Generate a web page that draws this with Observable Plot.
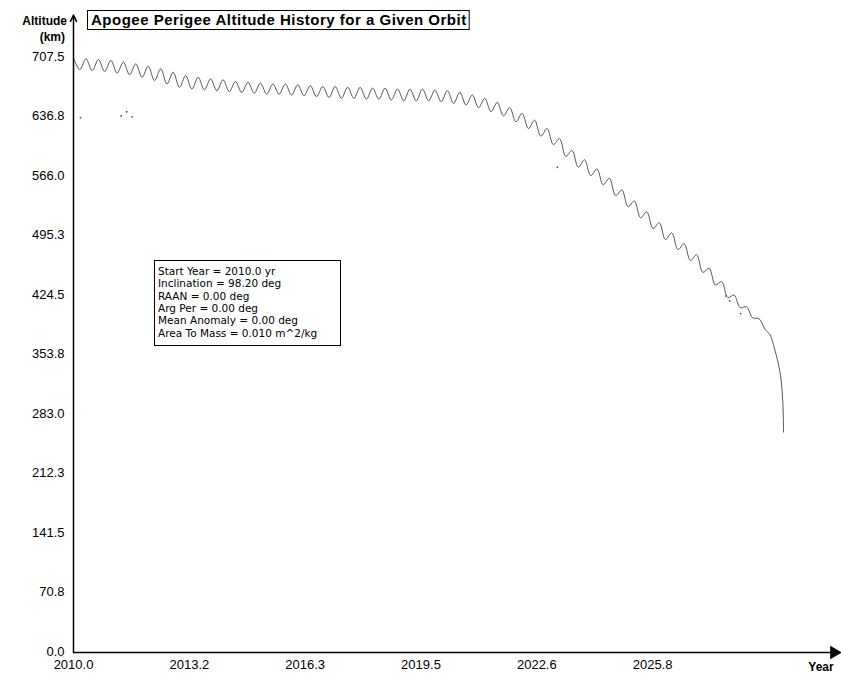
<!DOCTYPE html>
<html><head><meta charset="utf-8">
<script src="https://cdn.jsdelivr.net/npm/d3@7"></script>
<script src="https://cdn.jsdelivr.net/npm/@observablehq/plot@0.6"></script>
<style>body{margin:0;background:#fff}</style>
</head><body><div id="chart"></div>
<script>
const titleText = "Apogee Perigee Altitude History for a Given Orbit";
const yAxisTitle = ["Altitude", "(km)"];
const xAxisTitle = "Year";
const yTicks = [0, 70.75, 141.5, 212.25, 283.0, 353.75, 424.5, 495.25, 566.0, 636.75, 707.5];
const yLabels = ["0.0", "70.8", "141.5", "212.3", "283.0", "353.8", "424.5", "495.3", "566.0", "636.8", "707.5"];
const xTicks = [2010.0, 2013.16, 2016.32, 2019.48, 2022.64, 2025.8];
const xLabels = ["2010.0", "2013.2", "2016.3", "2019.5", "2022.6", "2025.8"];
const xMax = 2030.87;
const yMax = 707.5;
const yArrowTop = 758;

const legendLines = [
  "Start Year = 2010.0 yr",
  "Inclination = 98.20 deg",
  "RAAN = 0.00 deg",
  "Arg Per = 0.00 deg",
  "Mean Anomaly = 0.00 deg",
  "Area To Mass = 0.010 m^2/kg"
];

const years = [2010.00,2010.17,2010.34,2010.51,2010.68,2010.85,2011.02,2011.19,2011.36,2011.53,2011.70,2011.87,2012.04,2012.21,2012.38,2012.55,2012.72,2012.89,2013.06,2013.23,2013.40,2013.57,2013.74,2013.91,2014.08,2014.25,2014.42,2014.59,2014.76,2014.93,2015.10,2015.27,2015.44,2015.61,2015.78,2015.95,2016.12,2016.29,2016.46,2016.63,2016.80,2016.97,2017.14,2017.31,2017.48,2017.65,2017.82,2017.99,2018.16,2018.33,2018.50,2018.67,2018.84,2019.01,2019.18,2019.35,2019.52,2019.69,2019.86,2020.03,2020.20,2020.37,2020.54,2020.71,2020.88,2021.05,2021.22,2021.39,2021.56,2021.73,2021.90,2022.07,2022.24,2022.41,2022.58,2022.75,2022.92,2023.09,2023.26,2023.43,2023.60,2023.77,2023.94,2024.11,2024.28,2024.45,2024.62,2024.79,2024.96,2025.13,2025.30,2025.47,2025.64,2025.81,2025.98,2026.15,2026.32,2026.49,2026.66,2026.83,2027.00,2027.17,2027.34,2027.51,2027.68,2027.85,2028.02,2028.19,2028.36,2028.53,2028.70,2028.87,2029.00,2029.12,2029.22,2029.29,2029.33,2029.355,2029.365,2029.37];
const altitude = [707,693,706,692,705,691,704,689,702,687,700,684,697,680,694,676,690,672,686,670,684,669,682,668,681,667,679,666,678,665,677,664,676,664,676,663,675,662,674,661,673,660,673,659,672,659,672,658,671,658,671,657,670,656,670,656,670,656,669,655,668,653,666,651,663,648,659,643,654,638,648,631,641,623,633,614,623,604,611,590,597,577,586,567,575,556,564,543,550,530,537,517,524,504,511,491,499,479,486,466,473,452,457,437,441,422,425,410,411,398,397,384,378,362,345,329,312,295,278,262];

const strayYears = [2010.19, 2011.30, 2011.45, 2011.60, 2023.20, 2027.80, 2027.90, 2028.20];
const strayAlt = [636, 638, 643, 637, 577, 424, 418, 403];

const n = Math.min(years.length, altitude.length);
const series = d3.range(n).map(i => ({year: years[i], alt: altitude[i]}));
const stray = strayYears.map((y, i) => ({year: y, alt: strayAlt[i]}));

const font = "'Liberation Sans', Arial, sans-serif";

const chart = Plot.plot({
  width: 841, height: 680,
  marginLeft: 73, marginRight: 3, marginTop: 57, marginBottom: 28,
  x: {domain: [2010, xMax], axis: null},
  y: {domain: [0, yMax], axis: null},
  style: {fontFamily: font, background: "#fff", color: "#000"},
  marks: [
    Plot.line(series, {x: "year", y: "alt", stroke: "#3a3a3a", strokeWidth: 0.85, curve: "catmull-rom"}),
    Plot.dot(stray, {x: "year", y: "alt", r: 0.9, fill: "#555", stroke: null}),
    Plot.ruleY([0], {stroke: "#000", strokeWidth: 1.5}),
    Plot.dot([xMax], {x: d => d - 0.12, y: 0, symbol: "triangle", rotate: 90, r: 5, fill: "#000", stroke: null}),
    Plot.arrow([0], {x1: 2010, x2: 2010, y1: 0, y2: yArrowTop, stroke: "#000", strokeWidth: 1.5, headLength: 7, headAngle: 50}),
    Plot.text(yTicks, {frameAnchor: "left", y: d => d, text: (d, i) => yLabels[i], textAnchor: "end", dx: -9, dy: -1, fontSize: 13, fill: "#000"}),
    Plot.text(xTicks, {x: d => d, frameAnchor: "bottom", dy: 16, text: (d, i) => xLabels[i], fontSize: 13, fill: "#000"})
  ]
});
document.getElementById("chart").appendChild(chart);

const svg = d3.select(chart);
// Axis titles
svg.append("text").attr("x", 67).attr("y", 25).attr("text-anchor", "end")
  .attr("font-family", font).attr("font-size", 12).attr("font-weight", "bold").text(yAxisTitle[0]);
svg.append("text").attr("x", 65).attr("y", 41).attr("text-anchor", "end")
  .attr("font-family", font).attr("font-size", 12).attr("font-weight", "bold").text(yAxisTitle[1]);
svg.append("text").attr("x", 821).attr("y", 671).attr("text-anchor", "middle")
  .attr("font-family", font).attr("font-size", 12).attr("font-weight", "bold").text(xAxisTitle);

// Title in box
const titleRect = svg.append("rect").attr("x", 87.5).attr("y", 10.5).attr("height", 19)
  .attr("fill", "#fff").attr("stroke", "#000").attr("stroke-width", 1);
const t = svg.append("text").attr("x", 91).attr("y", 25).attr("text-anchor", "start")
  .attr("font-family", font).attr("font-size", 15).attr("font-weight", "bold")
  .attr("letter-spacing", 0.5).text(titleText);
const bb = t.node().getBBox();
titleRect.attr("width", bb.width + 6);

// Legend box
const lg = svg.append("g").attr("text-anchor", "start");
lg.append("rect").attr("x", 154.5).attr("y", 260.5).attr("width", 186).attr("height", 85)
  .attr("fill", "#fff").attr("stroke", "#000").attr("stroke-width", 1);
legendLines.forEach((s, i) => {
  lg.append("text").attr("x", 158).attr("y", 275 + i * 12.3).attr("text-anchor", "start")
    .attr("font-family", "'DejaVu Sans', sans-serif").attr("font-size", 10.5).attr("fill", "#000").text(s);
});
</script>
</body></html>
